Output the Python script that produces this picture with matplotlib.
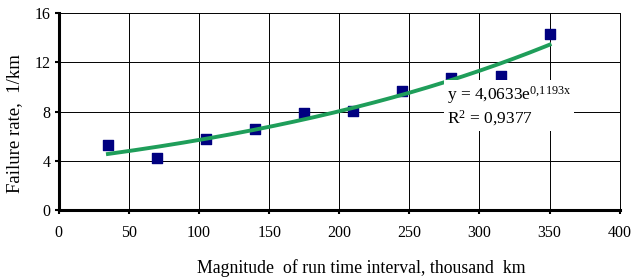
import numpy as np
import matplotlib.pyplot as plt

plt.rcParams['font.family'] = ['Liberation Serif', 'DejaVu Serif']
plt.rcParams['mathtext.fontset'] = 'custom'
plt.rcParams['mathtext.rm'] = 'Liberation Serif'
plt.rcParams['mathtext.default'] = 'regular'

# run time interval, thousand km
run_km = [35, 70, 105, 140, 175, 210, 245, 280, 315, 350]
# failure rate, 1/km
fail_rate = [5.28, 4.25, 5.74, 6.6, 7.85, 8.04, 9.67, 10.7, 10.86, 14.3]

x_ticks = [0, 50, 100, 150, 200, 250, 300, 350, 400]
y_ticks = [0, 4, 8, 12, 16]

# exponential trend over point index (as in Excel)
idx = np.arange(1, len(fail_rate) + 1)
b, ln_a = np.polyfit(idx, np.log(fail_rate), 1)
t = np.linspace(1, len(fail_rate), 200)
trend = np.exp(ln_a) * np.exp(b * t)
t_km = np.interp(t, idx, run_km)

fig = plt.figure(figsize=(6.33, 2.79), dpi=100)
ax = fig.add_axes([0.093, 0.247, 0.886, 0.706])

ax.set_xlim(0, 400)
ax.set_ylim(0, 16)
ax.set_xticks(x_ticks)
ax.set_yticks(y_ticks)
ax.grid(True, color='black', lw=0.7)
ax.set_axisbelow(True)

ax.plot(t_km, trend, color='#1f9e5a', lw=2.8, zorder=3)
ax.scatter(run_km, fail_rate, marker='s', s=42, color='#000080', zorder=2)

ax.text(277, 10.2, 'y = 4,0633e$^{0{,}1193x}$\nR$^{2}$ = 0,9377', fontsize=12.5,
        va='top', ha='left', linespacing=1.15, zorder=4,
        bbox=dict(facecolor='white', edgecolor='none', pad=2))

ax.spines['top'].set_visible(False)
ax.spines['left'].set_linewidth(2.2)
ax.spines['bottom'].set_linewidth(2.2)
ax.spines['right'].set_linewidth(0.7)
ax.tick_params(direction='out', length=3, width=1.5, labelsize=11.5)
ax.tick_params(axis='x', pad=8)
ax.tick_params(axis='y', pad=3)

ax.set_xlabel('Magnitude  of run time interval, thousand  km', fontsize=12.8)
ax.set_ylabel('Failure rate,  1/km', fontsize=13.5)
ax.xaxis.set_label_coords(0.54, -0.25)
ax.yaxis.set_label_coords(-0.064, 0.44)

fig.savefig('out.png', dpi=100)
